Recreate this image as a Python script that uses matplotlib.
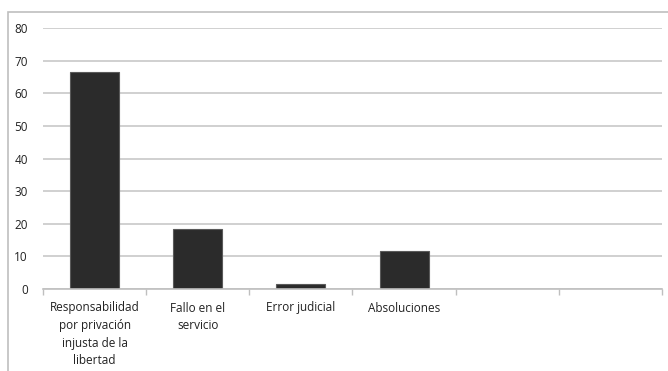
import matplotlib.pyplot as plt
from matplotlib.patches import Rectangle

categories = ['Responsabilidad\npor privación\ninjusta de la\nlibertad', 'Fallo en el\nservicio',
              'Error judicial', 'Absoluciones', '', '']
values = [66.5, 18.3, 1.5, 11.5]
yticks = [0, 10, 20, 30, 40, 50, 60, 70, 80]

plt.rcParams['font.family'] = ['Open Sans', 'DejaVu Sans']

fig = plt.figure(figsize=(6.68, 3.71), dpi=100)
ax = fig.add_axes([43 / 668, 82 / 371, 619 / 668, 261 / 371])

# outer chart frame (cut off on right and bottom like the reference)
fig.patches.append(Rectangle((8 / 668, -0.1), 1.2, (371 - 12) / 371 + 0.1,
                             transform=fig.transFigure, fill=False,
                             edgecolor='#bfbfbf', linewidth=1.2))

ax.bar(range(len(values)), values, width=0.475, color='#2b2b2b',
       edgecolor='#5a5a5a', linewidth=0.8, zorder=3)

ax.set_xlim(-0.5, len(categories) - 0.5)
ax.set_ylim(0, 80)
ax.set_yticks(yticks)
ax.set_xticks(range(len(categories)))
ax.set_xticklabels(categories, fontsize=8.5, linespacing=1.45, va='top', color='#222222')
ax.set_xticks([i - 0.5 for i in range(len(categories) + 1)], minor=True)
ax.tick_params(axis='x', which='major', length=0, pad=9)
ax.tick_params(axis='x', which='minor', length=4, color='#bfbfbf', width=1)
ax.tick_params(axis='y', length=0, pad=11, labelsize=8.5, labelcolor='#222222')

ax.grid(axis='y', color='#c8c8c8', linewidth=1.2, zorder=0)
for s in ['top', 'right', 'left']:
    ax.spines[s].set_visible(False)
ax.spines['bottom'].set_color('#bfbfbf')
ax.spines['bottom'].set_linewidth(1.2)
ax.spines['bottom'].set_zorder(4)

fig.savefig('out.png', dpi=100)
